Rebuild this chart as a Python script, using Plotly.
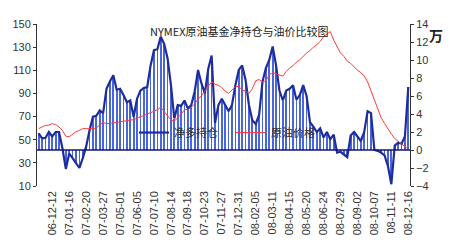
import plotly.graph_objects as go

# Weekly data (index 0..109); tick labels every 5 weeks starting at index 4
tick_labels = ["06-12-12", "07-01-16", "07-02-20", "07-03-27", "07-05-01", "07-06-05",
               "07-07-10", "07-08-14", "07-09-18", "07-10-23", "07-11-27", "07-12-31",
               "08-02-05", "08-03-11", "08-04-15", "08-05-20", "08-06-24", "08-07-29",
               "08-09-02", "08-10-07", "08-11-11", "08-12-16"]

# 净多持仓 (万手), right axis
net_long = [1.85, 1.3, 1.35, 2.0, 1.5, 2.0, 2.0, 0.2, -2.1, -0.4,
            -0.9, -1.5, -2.0, -0.9, 0.4, 2.2, 3.7, 3.8, 4.4, 4.1,
            6.8, 7.6, 8.3, 6.7, 6.8, 6.1, 5.3, 5.5, 3.7, 5.7,
            6.6, 6.9, 7.0, 9.4, 11.1, 11.2, 12.6, 11.8, 10.2, 7.2,
            3.5, 5.0, 4.9, 5.5, 4.6, 5.0, 6.5, 8.9, 7.4, 6.3,
            9.0, 10.5, 3.0, 5.0, 5.7, 5.0, 4.3, 5.0, 7.2, 8.9,
            9.4, 7.8, 5.0, 3.3, 2.9, 3.9, 7.6, 9.1, 10.0, 11.5,
            9.4, 6.6, 5.5, 6.6, 6.8, 7.2, 5.6, 6.1, 7.2, 6.0,
            3.1, 2.6, 2.0, 2.4, 1.4, 2.0, 1.2, 1.7, -0.3, -0.2,
            -0.5, -0.8, 1.6, 2.0, 1.5, 1.0, 2.0, 4.3, 4.1, 0.0,
            -0.1, -0.3, -0.6, -1.8, -3.8, 0.5, 0.8, 0.7, 1.5, 7.0]

# 原油价格 (USD), left axis
oil_price = [59.6, 61, 62.4, 62.5, 64, 63, 61, 58, 53, 52.5,
             55, 57, 58, 59.6, 59.6, 59.5, 59.6, 60, 63, 64.8,
             64, 64, 64.8, 65, 65.5, 66, 66.2, 66.8, 67.4, 68.5,
             70, 71, 72.3, 73.3, 74.5, 76, 78, 74, 70, 67,
             66, 69, 72, 76, 76, 78, 81, 85, 88, 92,
             96, 100, 98, 97, 95, 92, 90, 93, 96, 96,
             93, 92, 90, 94, 101, 102, 100, 101, 106, 108,
             107, 106, 105, 109, 112, 114, 117, 119, 122, 125,
             127, 130, 132, 135, 139, 141, 143.5, 136, 131, 125,
             122, 118, 116, 113, 110, 108, 105, 100, 92, 84,
             76, 69, 64, 59, 55, 51, 48.5, 46, 44, 42]

idx = list(range(len(net_long)))
tick_idx = [4 + 5 * k for k in range(len(tick_labels))]

TICKFONT = dict(family="Liberation Sans, Arial, sans-serif", size=11, color="#333333")
CJK = "Noto Sans CJK SC, sans-serif"

fig = go.Figure()
fig.add_trace(go.Bar(x=idx, y=net_long, width=0.22, yaxis="y",
                     marker=dict(color="#4a66dc", line=dict(width=0)),
                     showlegend=False, hoverinfo="skip"))
fig.add_trace(go.Scatter(x=idx, y=net_long, mode="lines", name="净多持仓", yaxis="y",
                         line=dict(color="#1e2c9e", width=2.2)))
fig.add_trace(go.Scatter(x=idx, y=oil_price, mode="lines", name="原油价格", yaxis="y2",
                         line=dict(color="#ff3a3a", width=1)))

fig.update_layout(
    width=450, height=250,
    margin=dict(l=30, r=40, t=24, b=64),
    paper_bgcolor="white", plot_bgcolor="white",
    bargap=0,
    xaxis=dict(range=[-0.5, 109.5], tickvals=tick_idx, ticktext=tick_labels,
               tickangle=-90, showgrid=False, zeroline=False, showline=False,
               ticks="", tickfont=TICKFONT, ticklabelstandoff=2),
    yaxis=dict(side="right", range=[-4, 14], tick0=-4, dtick=2, showgrid=False, zeroline=False,
               showline=True, linecolor="#333333", linewidth=1, ticks="outside",
               ticklen=3, tickcolor="#333333", tickfont=TICKFONT),
    yaxis2=dict(overlaying="y", side="left", range=[10, 150], tick0=10, dtick=20, showgrid=False,
                zeroline=False, showline=True, linecolor="#333333", linewidth=1,
                ticks="outside", ticklen=3, tickcolor="#333333", tickfont=TICKFONT),
    legend=dict(orientation="h", x=0.26, y=0.33, xanchor="left", yanchor="middle",
                bgcolor="rgba(0,0,0,0)", font=dict(family=CJK, size=11, color="#333333"),
                entrywidth=52, entrywidthmode="pixels", tracegroupgap=0, itemwidth=30),
    shapes=[dict(type="line", xref="paper", x0=0, x1=1, yref="y", y0=0, y1=0,
                 line=dict(color="#14146e", width=1.5), layer="above")],
    annotations=[
        dict(text="NYMEX原油基金净持仓与油价比较图", xref="paper", yref="paper",
             x=0.542, y=0.957, showarrow=False, xanchor="center", yanchor="middle",
             font=dict(family=CJK, size=11, color="#222222")),
        dict(text="<b>万</b>", xref="paper", yref="paper", x=1.07, y=0.93,
             showarrow=False, xanchor="center", yanchor="middle",
             font=dict(family=CJK, size=14, color="#222222")),
    ],
)

fig.write_html("out.html")
